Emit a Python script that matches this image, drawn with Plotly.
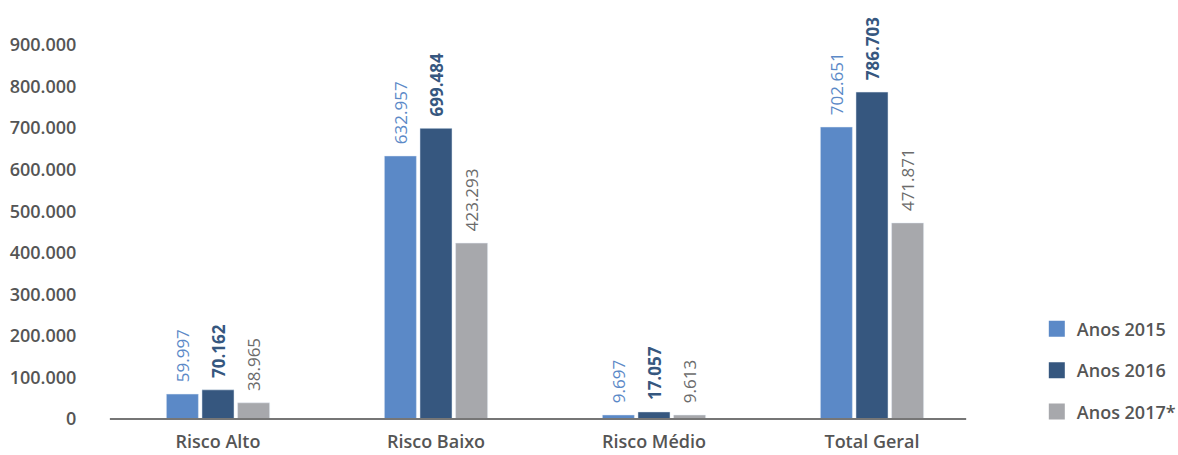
import plotly.graph_objects as go

categories = ["Risco Alto", "Risco Baixo", "Risco Médio", "Total Geral"]
series_names = ["Anos 2015", "Anos 2016", "Anos 2017*"]
values_2015 = [59997, 632957, 9697, 702651]
values_2016 = [70162, 699484, 17057, 786703]
values_2017 = [38965, 423293, 9613, 471871]
y_ticks = [0, 100000, 200000, 300000, 400000, 500000, 600000, 700000, 800000, 900000]

bar_colors = ["#5B89C7", "#36577F", "#A7A8AC"]
label_colors = ["#5B89C7", "#36577F", "#6B6B6B"]
label_weights = [400, 700, 400]
FONT = "Open Sans"

fig = go.Figure()
for name, vals, bc, lc, lw in zip(series_names, [values_2015, values_2016, values_2017],
                                  bar_colors, label_colors, label_weights):
    fig.add_trace(go.Bar(
        x=categories, y=vals, name=name, marker_color=bc, showlegend=False,
        texttemplate="\u00a0\u00a0%{y:,d}", textposition="outside", textangle=-90,
        textfont=dict(family=FONT, size=17, color=lc, weight=lw),
        cliponaxis=False, constraintext="none",
    ))
    fig.add_trace(go.Scatter(
        x=[None], y=[None], mode="markers", name=name, legendgroup=name,
        marker=dict(symbol="square", size=16, color=bc),
    ))

fig.update_layout(
    width=1178, height=455,
    margin=dict(l=109, r=197, t=45, b=36, autoexpand=False),
    paper_bgcolor="white", plot_bgcolor="white",
    separators=",.",
    barmode="group", bargap=0.51, bargroupgap=0.1,
    font=dict(family=FONT, size=18, color="#555555"),
    legend=dict(x=1.064, y=0.29, xanchor="left", yanchor="top",
                font=dict(family=FONT, size=18, color="#555555", weight=600),
                tracegroupgap=15, bgcolor="rgba(0,0,0,0)"),
    showlegend=True,
    shapes=[dict(type="line", xref="paper", yref="paper", x0=0.001, x1=0.983, y0=0, y1=0,
                 line=dict(color="#767676", width=2), layer="above")],
)
fig.update_xaxes(showline=False, showgrid=False, zeroline=False,
                 ticks="outside", ticklen=6, tickcolor="rgba(0,0,0,0)",
                 tickfont=dict(family=FONT, size=18, color="#555555", weight=600),
                 automargin=False)
fig.update_yaxes(range=[0, 900000], tickvals=y_ticks, tickformat=",d", showgrid=False,
                 zeroline=False, showline=False, automargin=False,
                 ticks="outside", ticklen=28, tickcolor="rgba(0,0,0,0)",
                 tickfont=dict(family=FONT, size=18, color="#555555", weight=600))

fig.write_html("out.html")
